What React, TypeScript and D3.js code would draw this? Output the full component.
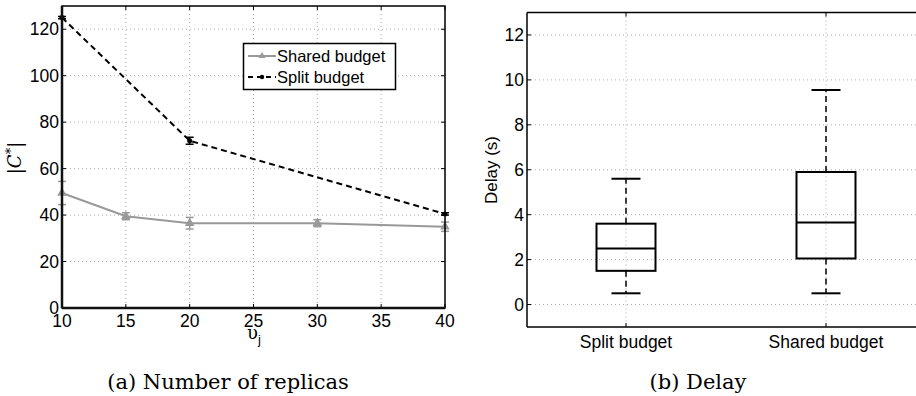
import React from 'react';
import * as d3 from 'd3';

// (a) number of replicas
const replicas = [10, 15, 20, 30, 40];
const sharedMean = [49.5, 39.5, 36.5, 36.5, 35];
const sharedErr = [5, 1.5, 2.5, 1.5, 2];
const splitX = [10, 20, 40];
const splitMean = [125, 72, 40.5];
const splitErr = [0.5, 1.5, 0.5];
const xTicksA = [10, 15, 20, 25, 30, 35, 40];
const yTicksA = [0, 20, 40, 60, 80, 100, 120];

// (b) delay boxplot
const groups = ['Split budget', 'Shared budget'];
const whiskLo = [0.5, 0.5];
const q1 = [1.5, 2.05];
const median = [2.5, 3.65];
const q3 = [3.6, 5.9];
const whiskHi = [5.6, 9.55];
const yTicksB = [0, 2, 4, 6, 8, 10, 12];

const sans = 'Liberation Sans, Arial, sans-serif';
const serif = 'DejaVu Serif, Liberation Serif, serif';
const gridColor = '#aaa';
const gray = '#999';
const tickFs = 17.5;

const App = () => {
  const width = 916;
  const height = 396;

  // panel a
  const xA = d3.scaleLinear().domain([10, 40]).range([62, 445]);
  const yA = d3.scaleLinear().domain([0, 130]).range([308, 6]);
  const sharedPts: [number, number][] = replicas.map((r, i) => [xA(r), yA(sharedMean[i])]);
  const splitPts: [number, number][] = splitX.map((r, i) => [xA(r), yA(splitMean[i])]);
  const line = d3.line();
  const tri = d3.symbol().type(d3.symbolTriangle).size(40)();

  // panel b
  const xB = d3.scalePoint().domain(groups).range([626, 826]);
  const yB = d3.scaleLinear().domain([-1, 13]).range([327, 12.5]);
  const boxW = 59;
  const capW = 29;

  return (
    <svg width={width} height={height} style={{ position: 'absolute', left: 0, top: 0 }}>
      <rect width={width} height={height} fill="#fff" />

      {/* ---------- (a) ---------- */}
      <g>
        {xTicksA.map((t) => (
          <line key={'gx' + t} x1={xA(t)} x2={xA(t)} y1={yA(130)} y2={yA(0)}
            stroke={gridColor} strokeDasharray="1,3" />
        ))}
        {yTicksA.map((t) => (
          <line key={'gy' + t} x1={xA(10)} x2={xA(40)} y1={yA(t)} y2={yA(t)}
            stroke={gridColor} strokeDasharray="1,3" />
        ))}
        {yTicksA.map((t) => (
          <g key={'ty' + t}>
            <line x1={xA(10)} x2={xA(10) + 4} y1={yA(t)} y2={yA(t)} stroke="#000" />
            <line x1={xA(40)} x2={xA(40) - 4} y1={yA(t)} y2={yA(t)} stroke="#000" />
            <text x={59} y={yA(t) + 6} textAnchor="end" fontFamily={sans} fontSize={tickFs}>{t}</text>
          </g>
        ))}
        {xTicksA.map((t) => (
          <g key={'tx' + t}>
            <line x1={xA(t)} x2={xA(t)} y1={yA(0)} y2={yA(0) - 4} stroke="#000" />
            <line x1={xA(t)} x2={xA(t)} y1={yA(130)} y2={yA(130) + 4} stroke="#000" />
            <text x={xA(t)} y={327} textAnchor="middle" fontFamily={sans} fontSize={tickFs}>{t}</text>
          </g>
        ))}

        {/* shared budget */}
        <path d={line(sharedPts) || undefined} fill="none" stroke={gray} strokeWidth={2} />
        {replicas.map((r, i) => (
          <g key={'sh' + r} stroke={gray} strokeWidth={1.5}>
            <line x1={xA(r)} x2={xA(r)} y1={yA(sharedMean[i] - sharedErr[i])} y2={yA(sharedMean[i] + sharedErr[i])} />
            <line x1={xA(r) - 4} x2={xA(r) + 4} y1={yA(sharedMean[i] - sharedErr[i])} y2={yA(sharedMean[i] - sharedErr[i])} />
            <line x1={xA(r) - 4} x2={xA(r) + 4} y1={yA(sharedMean[i] + sharedErr[i])} y2={yA(sharedMean[i] + sharedErr[i])} />
            <path d={tri || undefined} transform={`translate(${xA(r)},${yA(sharedMean[i])})`} fill={gray} stroke="none" />
          </g>
        ))}

        {/* split budget */}
        <path d={line(splitPts) || undefined} fill="none" stroke="#000" strokeWidth={2} strokeDasharray="6,4" />
        {splitX.map((r, i) => (
          <g key={'sp' + r} stroke="#000" strokeWidth={1.5}>
            <line x1={xA(r)} x2={xA(r)} y1={yA(splitMean[i] - splitErr[i])} y2={yA(splitMean[i] + splitErr[i])} />
            <line x1={xA(r) - 4} x2={xA(r) + 4} y1={yA(splitMean[i] - splitErr[i])} y2={yA(splitMean[i] - splitErr[i])} />
            <line x1={xA(r) - 4} x2={xA(r) + 4} y1={yA(splitMean[i] + splitErr[i])} y2={yA(splitMean[i] + splitErr[i])} />
            <circle cx={xA(r)} cy={yA(splitMean[i])} r={2.5} fill="#000" stroke="none" />
          </g>
        ))}

        <rect x={xA(10)} y={yA(130)} width={xA(40) - xA(10)} height={yA(0) - yA(130)}
          fill="none" stroke="#000" strokeWidth={1.5} />
        <line x1={xA(10)} x2={xA(10)} y1={yA(130)} y2={yA(0)} stroke="#111" strokeWidth={2.5} />
        <line x1={xA(10)} x2={xA(40)} y1={yA(0)} y2={yA(0)} stroke="#111" strokeWidth={2.5} />

        {/* legend */}
        <rect x={243.5} y={43.5} width={152} height={46} fill="#fff" stroke="#000" strokeWidth={1.5} />
        <line x1={248} x2={276} y1={56} y2={56} stroke={gray} strokeWidth={2} />
        <path d={d3.symbol().type(d3.symbolTriangle).size(22)() || undefined} transform="translate(262,56)" fill={gray} />
        <text x={277} y={61.5} fontFamily={sans} fontSize={16.5}>Shared budget</text>
        <line x1={248} x2={276} y1={77} y2={77} stroke="#000" strokeWidth={2} strokeDasharray="5,4" />
        <circle cx={262} cy={77} r={2.2} fill="#000" />
        <text x={277} y={82.5} fontFamily={sans} fontSize={16.5}>Split budget</text>

        {/* axis labels */}
        <text x={254} y={339} textAnchor="middle" fontFamily={serif} fontSize={18}>
          υ<tspan fontSize={13} dy={5} fontFamily={sans}>j</tspan>
        </text>
        <text transform="translate(21,158) rotate(-90)" textAnchor="middle" fontFamily={serif} fontSize={18}>
          |<tspan fontStyle="italic">C</tspan><tspan fontSize={13} dy={-6}>*</tspan><tspan dy={6}>|</tspan>
        </text>
        <text x={228} y={389} textAnchor="middle" fontFamily={serif} fontSize={21}>(a) Number of replicas</text>
      </g>

      {/* ---------- (b) ---------- */}
      <g>
        {groups.map((gname) => (
          <line key={'bgx' + gname} x1={xB(gname)} x2={xB(gname)} y1={yB(13)} y2={yB(-1)}
            stroke={gridColor} strokeDasharray="1,3" />
        ))}
        {yTicksB.map((t) => (
          <g key={'bty' + t}>
            <line x1={527} x2={930} y1={yB(t)} y2={yB(t)} stroke={gridColor} strokeDasharray="1,3" />
            <line x1={527} x2={531} y1={yB(t)} y2={yB(t)} stroke="#000" />
            <text x={524} y={yB(t) + 6} textAnchor="end" fontFamily={sans} fontSize={tickFs}>{t}</text>
          </g>
        ))}
        {groups.map((gname) => (
          <g key={'btx' + gname}>
            <line x1={xB(gname)} x2={xB(gname)} y1={yB(-1)} y2={yB(-1) - 4} stroke="#000" />
            <line x1={xB(gname)} x2={xB(gname)} y1={yB(13)} y2={yB(13) + 4} stroke="#000" />
            <text x={xB(gname)} y={348} textAnchor="middle" fontFamily={sans} fontSize={tickFs}>{gname}</text>
          </g>
        ))}

        {groups.map((gname, i) => {
          const cx = xB(gname) as number;
          return (
            <g key={'box' + gname} stroke="#000" fill="none">
              <line x1={cx} x2={cx} y1={yB(q3[i])} y2={yB(whiskHi[i])} strokeWidth={1.5} strokeDasharray="6,4" />
              <line x1={cx} x2={cx} y1={yB(q1[i])} y2={yB(whiskLo[i])} strokeWidth={1.5} strokeDasharray="6,4" />
              <line x1={cx - capW / 2} x2={cx + capW / 2} y1={yB(whiskHi[i])} y2={yB(whiskHi[i])} strokeWidth={2} />
              <line x1={cx - capW / 2} x2={cx + capW / 2} y1={yB(whiskLo[i])} y2={yB(whiskLo[i])} strokeWidth={2} />
              <rect x={cx - boxW / 2} y={yB(q3[i])} width={boxW} height={yB(q1[i]) - yB(q3[i])} strokeWidth={2} />
              <line x1={cx - boxW / 2} x2={cx + boxW / 2} y1={yB(median[i])} y2={yB(median[i])} strokeWidth={2} />
            </g>
          );
        })}

        <line x1={527} x2={930} y1={yB(13)} y2={yB(13)} stroke="#000" strokeWidth={1.5} />
        <line x1={527} x2={930} y1={yB(-1)} y2={yB(-1)} stroke="#000" strokeWidth={1.5} />
        <line x1={527} x2={527} y1={yB(13)} y2={yB(-1)} stroke="#000" strokeWidth={1.5} />

        <text transform="translate(497,170) rotate(-90)" textAnchor="middle" fontFamily={sans} fontSize={17}>Delay (s)</text>
        <text x={698} y={389} textAnchor="middle" fontFamily={serif} fontSize={21}>(b) Delay</text>
      </g>
    </svg>
  );
};

export default App;
